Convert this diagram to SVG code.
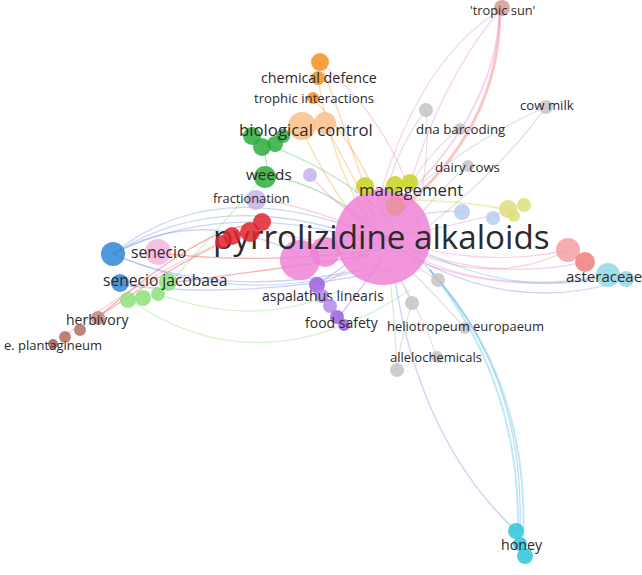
<svg xmlns="http://www.w3.org/2000/svg" width="642" height="575" viewBox="0 0 642 575">
<style>
text{font-family:"Open Sans","Noto Sans","Liberation Sans",sans-serif;fill:#2b2b2b;}
.e{fill:none;stroke-width:1.3;stroke-opacity:0.35;}
.n{fill-opacity:0.85;}
.pk{stroke:#ef7fd2}.rd{stroke:#e0282d}.bl{stroke:#6f86e8}.gr{stroke:#34b045}.lg{stroke:#7ddc6a}.or{stroke:#f5921e}.pu{stroke:#9b5fe0}.cy{stroke:#3cc9dc}.gy{stroke:#b0b0b0}.yl{stroke:#c9d12a}.br{stroke:#b06a5a}.sp{stroke:#f08080}
</style>
<rect width="642" height="575" fill="#ffffff"/>
<g id="connectors">
<path class="e bl" d="M113,254 Q210,175 360,230"/>
<path class="e bl" d="M113,254 Q220,185 370,240"/>
<path class="e bl" d="M113,254 Q230,195 380,245"/>
<path class="e bl" d="M113,254 Q200,205 300,255"/>
<path class="e bl" d="M113,254 Q220,300 360,270"/>
<path class="e bl" d="M113,254 Q240,310 380,265"/>
<path class="e bl" d="M120,285 Q250,300 390,270"/>
<path class="e rd" d="M158,253 Q260,265 380,250"/>
<path class="e rd" d="M170,283 Q270,270 370,255"/>
<path class="e rd" d="M97,318 Q200,230 250,225"/>
<path class="e rd" d="M97,318 Q180,260 240,235"/>
<path class="e sp" d="M62,338 Q150,270 250,230"/>
<path class="e lg" d="M130,300 Q260,390 410,290"/>
<path class="e lg" d="M158,294 Q260,330 340,290"/>
<path class="e lg" d="M170,283 Q230,215 265,175"/>
<path class="e gr" d="M265,175 Q330,185 380,235"/>
<path class="e gr" d="M255,140 Q340,170 390,220"/>
<path class="e gr" d="M262,145 Q270,170 265,175"/>
<path class="e or" d="M320,62 Q350,140 375,220"/>
<path class="e or" d="M318,78 Q330,160 370,225"/>
<path class="e or" d="M313,98 Q360,150 385,215"/>
<path class="e or" d="M300,126 Q330,190 365,230"/>
<path class="e or" d="M325,125 Q350,170 380,230"/>
<path class="e pk" d="M320,62 Q400,130 420,230"/>
<path class="e sp" d="M500,10 Q500,130 395,215" style="stroke-width:3;stroke-opacity:0.45"/>
<path class="e pk" d="M500,10 Q495,120 385,215" style="stroke-width:2"/>
<path class="e pk" d="M500,10 Q420,60 380,195"/>
<path class="e pk" d="M500,10 Q440,80 405,200"/>
<path class="e gy" d="M426,110 Q395,150 385,200"/>
<path class="e gy" d="M426,110 Q430,150 420,200"/>
<path class="e gy" d="M460,128 Q420,160 400,205"/>
<path class="e gy" d="M546,107 Q500,170 430,225"/>
<path class="e gy" d="M546,107 Q470,140 395,205"/>
<path class="e gy" d="M468,165 Q440,190 420,215"/>
<path class="e gy" d="M412,303 Q400,280 395,260"/>
<path class="e gy" d="M438,280 Q420,270 410,260"/>
<path class="e gy" d="M465,328 Q440,300 410,270"/>
<path class="e gy" d="M437,357 Q420,310 400,280"/>
<path class="e gy" d="M397,370 Q395,320 390,280"/>
<path class="e gy" d="M397,370 Q400,340 412,303"/>
<path class="e pk" d="M382,237 Q480,270 568,250"/>
<path class="e pk" d="M382,237 Q480,285 585,262"/>
<path class="e pk" d="M390,250 Q500,300 612,275"/>
<path class="e sp" d="M400,245 Q490,290 568,250"/>
<path class="e pk" d="M382,237 Q470,300 612,275"/>
<path class="e bl" d="M382,237 Q500,320 625,280"/>
<path class="e cy" d="M420,250 Q520,300 612,275"/>
<path class="e pk" d="M382,237 Q440,230 510,210"/>
<path class="e yl" d="M400,200 Q460,200 510,210"/>
<path class="e bl" d="M420,215 Q440,210 462,212"/>
<path class="e pk" d="M382,237 Q330,200 310,175"/>
<path class="e pk" d="M382,237 Q290,200 255,200"/>
<path class="e pk" d="M382,237 Q300,250 255,222"/>
<path class="e pk" d="M382,237 Q340,280 318,285"/>
<path class="e pu" d="M338,318 Q360,290 382,260"/>
<path class="e pu" d="M318,285 Q350,260 370,250"/>
<path class="e pk" d="M382,237 Q340,180 365,185"/>
<path class="e bl" d="M395,280 Q420,440 515,530" style="stroke-width:1.5"/>
<path class="e cy" d="M430,270 Q520,380 518,530" style="stroke-width:2"/>
<path class="e cy" d="M430,270 Q530,380 523,540" style="stroke-width:2"/>
<path class="e bl" d="M425,265 Q525,370 520,530"/>
</g>

<g id="n-pyrrolizidine-alkaloids">
<circle cx="300" cy="260" r="20" fill="#ef82d6" class="n"/>
<circle cx="325" cy="252" r="15" fill="#ef82d6" class="n"/>
<circle cx="383" cy="237" r="48" fill="#ef82d6" class="n"/>
<circle cx="395" cy="206" r="10" fill="#e9909d" class="n"/>
<text x="213" y="249" font-size="33.2">pyrrolizidine alkaloids</text>
</g>
<g id="n-red">
<circle cx="262" cy="222" r="9" fill="#e0262b" class="n"/>
<circle cx="250" cy="232" r="10" fill="#e0262b" class="n"/>
<circle cx="232" cy="236" r="9" fill="#e0262b" class="n"/>
<circle cx="222" cy="242" r="7" fill="#e0262b" class="n"/>
</g>
<g id="n-fractionation">
<circle cx="256" cy="200" r="10" fill="#c6b3ea" class="n"/>
<text x="213" y="203" font-size="12.8">fractionation</text>
</g>
<g id="n-lavender">
<circle cx="310" cy="175" r="7" fill="#c6b3ea" class="n"/>
</g>
<g id="n-chemical-defence">
<circle cx="320" cy="62" r="9" fill="#f5921e" class="n"/>
<circle cx="318" cy="78" r="7" fill="#f5921e" class="n"/>
<circle cx="313" cy="98" r="6" fill="#f5921e" class="n"/>
<text x="261" y="83" font-size="14.3">chemical defence</text>
</g>
<g id="n-trophic-interactions">
<circle cx="302" cy="126" r="14" fill="#f8c08a" class="n"/>
<circle cx="325" cy="123" r="11" fill="#f8c08a" class="n"/>
<text x="254" y="103" font-size="13.2">trophic interactions</text>
</g>
<g id="n-biological-control">
<circle cx="252" cy="136" r="9" fill="#2eab3c" class="n"/>
<circle cx="262" cy="147" r="9" fill="#2eab3c" class="n"/>
<circle cx="275" cy="144" r="8" fill="#2eab3c" class="n"/>
<circle cx="283" cy="136" r="7" fill="#2eab3c" class="n"/>
<text x="239" y="136" font-size="16.8">biological control</text>
</g>
<g id="n-weeds">
<circle cx="265" cy="177" r="11" fill="#2eab3c" class="n"/>
<text x="246" y="180" font-size="15.3">weeds</text>
</g>
<g id="n-management">
<circle cx="365" cy="186" r="9" fill="#c8d21e" class="n"/>
<circle cx="395" cy="185" r="9" fill="#c8d21e" class="n"/>
<circle cx="410" cy="182" r="8" fill="#c8d21e" class="n"/>
<text x="359" y="196" font-size="16.8">management</text>
</g>
<g id="n-dna-barcoding">
<circle cx="426" cy="110" r="7" fill="#c4c4c4" class="n"/>
<circle cx="460" cy="129" r="6" fill="#c4c4c4" class="n"/>
<text x="416" y="134" font-size="13.3">dna barcoding</text>
</g>
<g id="n-cow-milk">
<circle cx="546" cy="107" r="7" fill="#c4c4c4" class="n"/>
<text x="520" y="110" font-size="13.2">cow milk</text>
</g>
<g id="n-dairy-cows">
<circle cx="468" cy="166" r="6" fill="#c4c4c4" class="n"/>
<text x="435" y="172" font-size="13.2">dairy cows</text>
</g>
<g id="n-tropic-sun">
<circle cx="502" cy="8" r="8" fill="#d59a8e" class="n"/>
<text x="470" y="15" font-size="12.8">'tropic sun'</text>
</g>
<g id="n-yellow-right">
<circle cx="462" cy="212" r="8" fill="#b6cdf0" class="n"/>
<circle cx="493" cy="218" r="7" fill="#b6cdf0" class="n"/>
<circle cx="508" cy="209" r="9" fill="#dde07a" class="n"/>
<circle cx="524" cy="205" r="7" fill="#dde07a" class="n"/>
<circle cx="514" cy="216" r="6" fill="#dde07a" class="n"/>
</g>
<g id="n-asteraceae">
<circle cx="568" cy="250" r="12" fill="#f4a0a0" class="n"/>
<circle cx="585" cy="262" r="10" fill="#ef7f7f" class="n"/>
<circle cx="608" cy="275" r="12" fill="#8fd8e6" class="n"/>
<circle cx="626" cy="279" r="8" fill="#8fd8e6" class="n"/>
<text x="566" y="282" font-size="15">asteraceae</text>
</g>
<g id="n-senecio">
<circle cx="158" cy="252" r="13" fill="#f2b6dd" class="n"/>
<circle cx="113" cy="254" r="12" fill="#2f86d6" class="n"/>
<text x="131" y="258" font-size="15.6">senecio</text>
</g>
<g id="n-senecio-jacobaea">
<circle cx="120" cy="283" r="9" fill="#2f86d6" class="n"/>
<circle cx="128" cy="300" r="8" fill="#8ee07a" class="n"/>
<circle cx="143" cy="298" r="8" fill="#8ee07a" class="n"/>
<circle cx="158" cy="294" r="7" fill="#8ee07a" class="n"/>
<circle cx="168" cy="282" r="9" fill="#8ee07a" class="n"/>
<text x="103" y="286" font-size="15.6">senecio jacobaea</text>
</g>
<g id="n-herbivory">
<circle cx="98" cy="318" r="7" fill="#c0877a" class="n"/>
<text x="66" y="325" font-size="14">herbivory</text>
</g>
<g id="n-e-plantagineum">
<circle cx="80" cy="330" r="6" fill="#b0705f" class="n"/>
<circle cx="65" cy="337" r="6" fill="#b0705f" class="n"/>
<circle cx="53" cy="344" r="5" fill="#a0604f" class="n"/>
<text x="4" y="350" font-size="13">e. plantagineum</text>
</g>
<g id="n-aspalathus-linearis">
<circle cx="317" cy="285" r="8" fill="#9b5fe0" class="n"/>
<circle cx="322" cy="296" r="7" fill="#b088ea" class="n"/>
<text x="262" y="301" font-size="14">aspalathus linearis</text>
</g>
<g id="n-food-safety">
<circle cx="330" cy="306" r="7" fill="#b088ea" class="n"/>
<circle cx="337" cy="317" r="7" fill="#9b5fe0" class="n"/>
<circle cx="344" cy="325" r="6" fill="#9b5fe0" class="n"/>
<text x="305" y="328" font-size="14">food safety</text>
</g>
<g id="n-heliotropeum-europaeum">
<circle cx="438" cy="280" r="7" fill="#c4c4c4" class="n"/>
<circle cx="412" cy="303" r="7" fill="#c4c4c4" class="n"/>
<circle cx="465" cy="328" r="6" fill="#c4c4c4" class="n"/>
<text x="387" y="331" font-size="13">heliotropeum europaeum</text>
</g>
<g id="n-allelochemicals">
<circle cx="437" cy="357" r="6" fill="#c4c4c4" class="n"/>
<circle cx="397" cy="370" r="7" fill="#c4c4c4" class="n"/>
<text x="390" y="362" font-size="13">allelochemicals</text>
</g>
<g id="n-honey">
<circle cx="516" cy="531" r="8" fill="#2ec6d8" class="n"/>
<circle cx="520" cy="544" r="7" fill="#2ec6d8" class="n"/>
<circle cx="525" cy="556" r="8" fill="#2ec6d8" class="n"/>
<text x="501" y="550" font-size="14.2">honey</text>
</g>
</svg>
